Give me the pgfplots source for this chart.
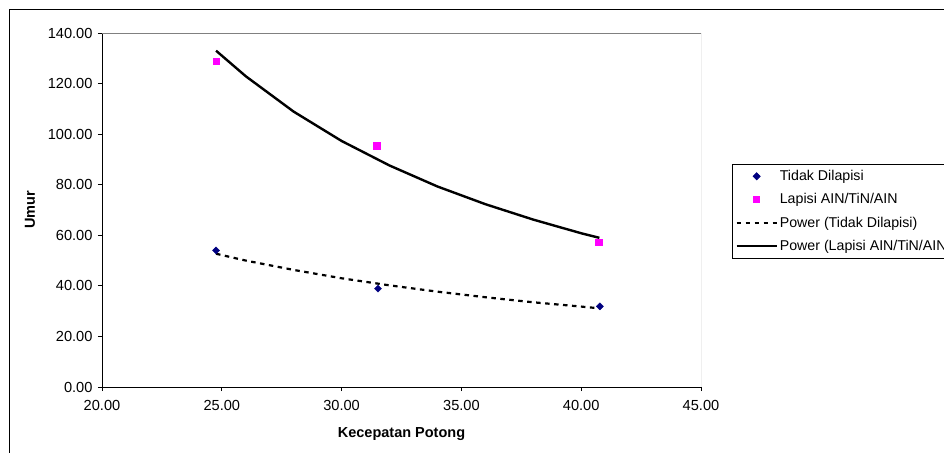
\documentclass[border=0pt]{standalone}
\usepackage{fontspec}
\setmainfont{Liberation Sans}
\usepackage{pgfplots}
\pgfplotsset{compat=1.18}
\definecolor{navyblue}{RGB}{0,0,128}
\definecolor{pinkmag}{RGB}{255,0,255}

% measured values
\pgfplotstableread{
x y
24.76 54.0
31.52 38.9
40.78 31.9
}\tidak
\pgfplotstableread{
x y
24.76 128.9
31.46 95.5
40.73 57.3
}\lapisi
% power trendlines (Excel fit), sampled
\pgfplotstableread{
x y
24.76 52.7
26 50.0
28 46.3
30 43.0
32 40.2
34 37.7
36 35.5
38 33.5
40 31.8
40.78 31.1
}\powtidak
\pgfplotstableread{
x y
24.76 133.0
26 122.9
28 108.9
30 97.3
32 87.6
34 79.3
36 72.3
38 66.2
40 60.8
40.76 59.0
}\powlapisi

\begin{document}
\begin{tikzpicture}
\clip (-102pt,-65pt) rectangle (842pt,387pt);
\draw[black, line width=1pt] (-92pt,-90pt) rectangle (870pt,377pt);
\begin{axis}[
    at={(0pt,0pt)}, anchor=south west,
    scale only axis,
    width=599pt, height=354pt,
    xmin=20, xmax=45, ymin=0, ymax=140,
    xtick={20,25,...,45},
    ytick={0,20,...,140},
    axis lines=left,
    axis line style={-, black, line width=0.9pt},
    tick align=outside,
    major tick length=4pt,
    tick style={black, line width=0.8pt},
    tick label style={font=\fontsize{14.6}{16}\selectfont},
    xticklabel style={yshift=-6pt},
    yticklabel style={xshift=-2pt},
    /pgf/number format/fixed,
    /pgf/number format/fixed zerofill,
    /pgf/number format/precision=2,
    /pgf/number format/assume math mode=true,
    xlabel={Kecepatan Potong},
    ylabel={Umur},
    label style={font=\bfseries\fontsize{14.5}{16}\selectfont},
    xlabel style={at={(axis description cs:0.5,-0.1328)}, anchor=center},
    ylabel style={at={(axis description cs:-0.1202,0.5)}, anchor=center},
    legend style={at={(axis description cs:1.0518,0.63)}, anchor=north west,
        draw=black, line width=0.8pt, row sep=7.5pt,
        inner ysep=4pt, font=\fontsize{14.2}{16}\selectfont},
    legend cell align=left,
    legend image code/.code={\draw[mark repeat=2,mark phase=2,#1]
        plot coordinates {(0pt,0pt) (20pt,0pt) (40pt,0pt)};},
]
\draw[gray, line width=0.8pt] (rel axis cs:0,1) -- (rel axis cs:1,1) -- (rel axis cs:1,0);
\addplot[only marks, mark=square*, mark size=2.5pt,
    mark options={rotate=45, fill=navyblue, draw=navyblue}] table {\tidak};
\addlegendentry{Tidak Dilapisi}
\addplot[only marks, mark=square*, mark size=3.2pt,
    mark options={fill=pinkmag, draw=pinkmag}] table {\lapisi};
\addlegendentry{Lapisi AIN/TiN/AIN}
\addplot[black, line width=2.2pt, dash pattern=on 4.5pt off 4.5pt] table {\powtidak};
\addlegendentry{Power (Tidak Dilapisi)}
\addplot[black, line width=2.4pt] table {\powlapisi};
\addlegendentry{Power (Lapisi AIN/TiN/AIN)}
\end{axis}
\end{tikzpicture}
\end{document}
